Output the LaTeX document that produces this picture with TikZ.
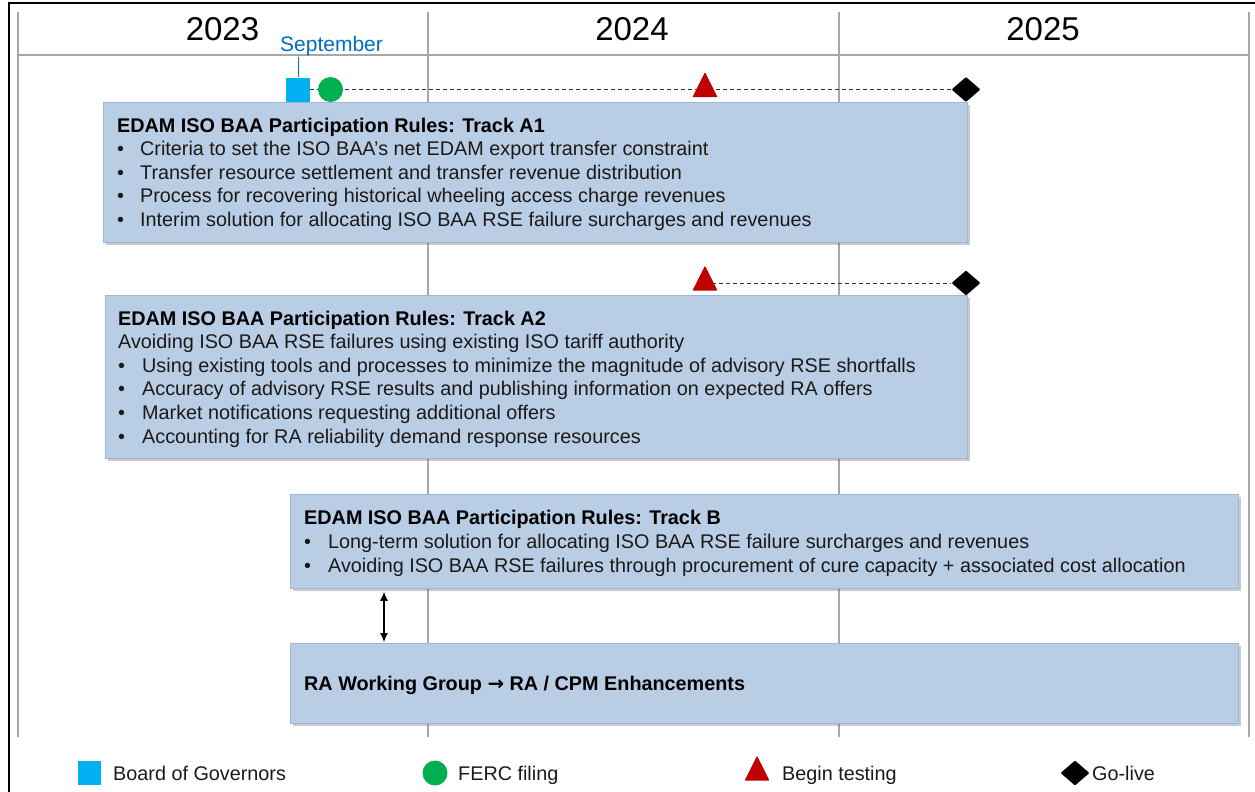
\documentclass[tikz,border=0pt]{standalone}
\usepackage{fontspec}
\setmainfont{Liberation Sans}
\newfontfamily\arrowfont{DejaVu Sans}
\usetikzlibrary{shadows,shapes.geometric,arrows.meta,calc,backgrounds}
\definecolor{boxfill}{HTML}{B9CDE5}
\definecolor{boxline}{HTML}{9DB7D8}
\definecolor{gridgray}{HTML}{A6A6A6}
\definecolor{bgblue}{HTML}{00B0F0}
\definecolor{fercgreen}{HTML}{00B050}
\definecolor{testred}{HTML}{C00000}
\definecolor{septblue}{HTML}{0070C0}
\definecolor{bodytext}{HTML}{1A1A1A}
\newcommand\mybul[1]{\makebox[#1][l]{•}}
\begin{document}
\begin{tikzpicture}[x=1pt,y=-1pt,
  box/.style={draw=boxline, fill=boxfill, line width=0.8pt, anchor=north west, inner sep=0pt,
    drop shadow={shadow xshift=2.5pt,shadow yshift=-3pt,opacity=0.35,fill=black!60}},
  txt/.style={anchor=base west, inner sep=0pt, text=bodytext, font=\fontsize{19.8}{23}\selectfont},
  ttl/.style={anchor=base west, inner sep=0pt, text=black, font=\fontsize{19.8}{23}\selectfont\bfseries},
  year/.style={anchor=base, inner sep=0pt, font=\fontsize{33}{38}\selectfont},
  gridline/.style={draw=gridgray, line width=1.6pt},
  sqm/.style={rectangle, fill=bgblue, minimum width=24, minimum height=24, inner sep=0pt},
  cirm/.style={circle, fill=fercgreen, minimum size=25, inner sep=0pt},
  trim/.style={isosceles triangle, isosceles triangle apex angle=60, isosceles triangle stretches,
    shape border rotate=90, fill=testred, minimum width=25, minimum height=25, inner sep=0pt, rounded corners=1pt},
  diam/.style={diamond, fill=black, minimum width=29, minimum height=25, inner sep=0pt, rounded corners=1pt},
  dashline/.style={draw=black!80, line width=1pt, dash pattern=on 4pt off 3pt},
]
\useasboundingbox (0,0) rectangle (1255,792);
% frame
\draw[line width=2pt] (9,792) -- (9,3) -- (1255,3);
% grid
\begin{scope}[on background layer]
\draw[gridline] (18,12) -- (18,737);
\draw[gridline] (428,12) -- (428,737);
\draw[gridline] (839,12) -- (839,737);
\draw[gridline] (1249,12) -- (1249,737);
\draw[gridline] (18,55) -- (1249,55);
\end{scope}
% years
\node[year] (y2023) at (222.5,40.5) {2023};
\node[year] (y2024) at (632,40.5) {2024};
\node[year] (y2025) at (1043,40.5) {2025};
\node[anchor=base, inner sep=0pt, text=septblue, font=\fontsize{21}{25}\selectfont] (sep) at (331.5,52) {September};

% row 1 markers
\node[sqm] (sq) at (298,89.5) {};
\node[cirm] (fc) at (330.5,89.5) {};
\node[trim] (t1) at (705,89.5) {};
\node[diam] (d1) at (966,89.5) {};
\draw[draw=septblue, line width=0.8pt] (sq.north) -- ++(0,-20);

% row 2 markers
\node[trim] (t2) at (705,283) {};
\node[diam] (d2) at (966,283) {};

\begin{scope}[on background layer]
\draw[dashline] (sq.east) -- (d1.west);
\draw[dashline] (t2.center) -- (d2.west);
\end{scope}

% Box A1
\node[box, minimum width=864, minimum height=140] (A1) at (103,101.5) {};
\node[ttl] (A1t) at (117,132.5) {EDAM ISO BAA Participation Rules: Track A1};
\node[txt] (A1a) at (117,155.5) {\mybul{23pt}Criteria to set the ISO BAA’s net EDAM export transfer constraint};
\node[txt] (A1b) at (117,179) {\mybul{23pt}Transfer resource settlement and transfer revenue distribution};
\node[txt] (A1c) at (117,202.5) {\mybul{23pt}Process for recovering historical wheeling access charge revenues};
\node[txt] (A1d) at (117,226) {\mybul{23pt}Interim solution for allocating ISO BAA RSE failure surcharges and revenues};

% Box A2
\node[box, minimum width=862, minimum height=163] (A2) at (105,295) {};
\node[ttl] (A2t) at (118,325) {EDAM ISO BAA Participation Rules: Track A2};
\node[txt] (A2s) at (118,348.5) {Avoiding ISO BAA RSE failures using existing ISO tariff authority};
\node[txt] (A2a) at (118,372) {\mybul{24pt}Using existing tools and processes to minimize the magnitude of advisory RSE shortfalls};
\node[txt] (A2b) at (118,395.5) {\mybul{24pt}Accuracy of advisory RSE results and publishing information on expected RA offers};
\node[txt] (A2c) at (118,419) {\mybul{24pt}Market notifications requesting additional offers};
\node[txt] (A2d) at (118,443) {\mybul{24pt}Accounting for RA reliability demand response resources};

% Box B
\node[box, minimum width=948, minimum height=94] (B) at (290,494) {};
\node[ttl] (Bt) at (304,524.5) {EDAM ISO BAA Participation Rules: Track B};
\node[txt] (Ba) at (304,548.5) {\mybul{24pt}Long-term solution for allocating ISO BAA RSE failure surcharges and revenues};
\node[txt] (Bb) at (304,572.5) {\mybul{24pt}Avoiding ISO BAA RSE failures through procurement of cure capacity + associated cost allocation};

% Box RA
\node[box, minimum width=948, minimum height=80] (RA) at (290,643) {};
\node[ttl] (RAt) at (304,690.5) {RA Working Group {\arrowfont →} RA / CPM Enhancements};

\draw[line width=1.1pt, {Latex[length=9pt,width=8pt]}-{Latex[length=9pt,width=8pt]}] ($(B.south west)+(94,3)$) -- ($(RA.north west)+(94,-1)$);

% legend
\node[sqm, minimum width=23, minimum height=24] (Lsq) at (89,773) {};
\node[txt] (Lsqt) at (113,780) {Board of Governors};
\node[cirm] (Lc) at (435,773) {};
\node[txt] (Lct) at (458,780) {FERC filing};
\node[trim] (Lt) at (757,773) {};
\node[txt] (Ltt) at (782,780) {Begin testing};
\node[diam] (Ld) at (1075,773) {};
\node[txt] (Ldt) at (1092,780) {Go-live};
\end{tikzpicture}
\end{document}
